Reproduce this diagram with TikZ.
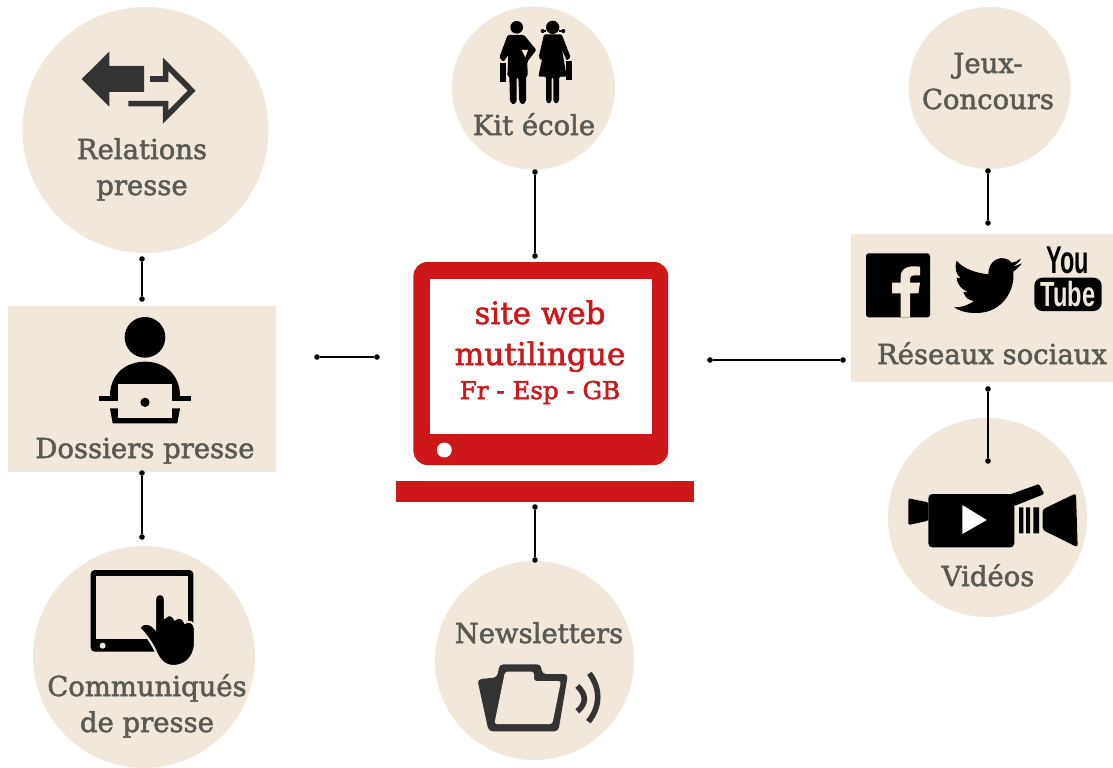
\documentclass[tikz,border=0pt]{standalone}
\usepackage{fontspec}
\usepackage{graphicx}
\setmainfont{DejaVu Serif}
\newfontfamily\ytfont{Liberation Sans}
\definecolor{beige}{HTML}{F1E8DB}
\definecolor{redc}{HTML}{CD1719}
\definecolor{txtc}{HTML}{5A5A55}
\definecolor{darkc}{HTML}{333333}
\newcommand{\heavytext}[1]{\special{pdf:literal direct 2 Tr 0.4 w}#1\special{pdf:literal direct 0 Tr 0.4 w}}
\tikzset{
  px/.style={x=0.75pt,y=-0.75pt},
  zoomed/.style={x=0.25pt,y=-0.25pt},
  disc/.style={circle,fill=beige,inner sep=0pt,minimum size=#1*0.75pt},
  panel/.style={rectangle,fill=beige,inner sep=0pt},
  lab/.style={text=txtc,font=\fontsize{20.6}{24}\selectfont,inner sep=0pt,anchor=base},
  redlab/.style={text=redc,inner sep=0pt,anchor=base},
  dotend/.style={circle,fill=black,inner sep=0pt,minimum size=4.2pt},
  link/.style={draw=black,line width=1pt},
}
\begin{document}
\begin{tikzpicture}[px]
\useasboundingbox (0,0) rectangle (1113,767);
\fill[white] (0,0) rectangle (1113,767);
% discs and panels
\node[disc=246] (relations) at (145.5,130) {};
\node[disc=163] (kit) at (533.5,88) {};
\node[disc=162] (jeux) at (989.5,88) {};
\node[disc=222] (communiques) at (144,657) {};
\node[disc=199] (newsletters) at (534.5,660.5) {};
\node[disc=199] (videos) at (987.5,517.5) {};
\node[panel,minimum width=201pt,minimum height=124.5pt] (dossiers) at (142,389) {};
\node[panel,minimum width=196.5pt,minimum height=111pt] (reseaux) at (982,308) {};
% monitor
\node[rectangle,fill=redc,rounded corners=10.5pt,minimum width=191pt,minimum height=152.25pt,inner sep=0pt] (monitor) at (540.75,363.5) {};
\node[rectangle,fill=white,minimum width=166.5pt,minimum height=116.6pt,inner sep=0pt] (screen) at (541,356.25) {};
\node[circle,fill=white,minimum size=11.2pt,inner sep=0pt] (monbtn) at (444.3,450) {};
\node[rectangle,fill=redc,minimum width=223.5pt,minimum height=15.75pt,inner sep=0pt] (monbase) at (545,491.5) {};
% connectors
\node[dotend] (a1) at (142,259) {}; \node[dotend] (a2) at (142,299) {};
\node[dotend] (b1) at (142,473) {}; \node[dotend] (b2) at (142,537) {};
\node[dotend] (c1) at (317,357) {}; \node[dotend] (c2) at (377,357) {};
\node[dotend] (d1) at (535,172) {}; \node[dotend] (d2) at (535,256) {};
\node[dotend] (e1) at (535,507) {}; \node[dotend] (e2) at (535,560) {};
\node[dotend] (f1) at (710,360) {}; \node[dotend] (f2) at (843,360) {};
\node[dotend] (g1) at (988,171) {}; \node[dotend] (g2) at (988,223) {};
\node[dotend] (h1) at (988,389) {}; \node[dotend] (h2) at (988,461) {};
\draw[link] (a1) -- (a2);
\draw[link] (b1) -- (b2);
\draw[link] (c1) -- (c2);
\draw[link] (d1) -- (d2);
\draw[link] (e1) -- (e2);
\draw[link] (f1) -- (f2);
\draw[link] (g1) -- (g2);
\draw[link] (h1) -- (h2);
% labels
\node[lab] (t1) at (142,159) {\heavytext{Relations}};
\node[lab] (t2) at (142,195) {\heavytext{presse}};
\node[lab] (t3) at (534,135) {\heavytext{Kit école}};
\node[lab] (t4) at (988,73) {\heavytext{Jeux-}};
\node[lab] (t5) at (988,109) {\heavytext{Concours}};
\node[lab] (t6) at (145,458) {\heavytext{Dossiers presse}};
\node[lab] (t7) at (992,364) {\heavytext{Réseaux sociaux}};
\node[lab] (t8) at (988,586) {\heavytext{Vidéos}};
\node[lab] (t9) at (539,643) {\heavytext{Newsletters}};
\node[lab] (t10) at (147,696) {\heavytext{Communiqués}};
\node[lab] (t11) at (147,732) {\heavytext{de presse}};
\node[redlab,font=\fontsize{23.2}{27}\selectfont] (t12) at (540,324) {\heavytext{site web}};
\node[redlab,font=\fontsize{23.4}{27}\selectfont] (t13) at (540,365) {\heavytext{mutilingue}};
\node[redlab,font=\fontsize{18.4}{21}\selectfont] (t14) at (540,399) {\heavytext{Fr - Esp - GB}};
% exchange arrows
\begin{scope}[zoomed]
\fill[darkc] (245,237) -- (328,155) -- (328,198) -- (432,198) -- (432,276) -- (328,276) -- (328,320) -- cycle;
\draw[darkc,line width=4.2pt,miter limit=10] (450,237) -- (497,237) -- (497,193) -- (575,272) -- (497,351) -- (497,311) -- (385,311);
\end{scope}
% kit figures
\begin{scope}[shift={(440,0)},zoomed]
\fill (230,82) circle[radius=19];
\fill[rounded corners=1pt] (203,105) -- (252,105) -- (289,150) -- (262,185) -- (263,228) -- (258,228) -- (258,305) -- (248,314) -- (238,305) -- (235,232) -- (230,232) -- (230,305) -- (220,314) -- (210,305) -- (208,228) -- (202,228) -- (205,165) -- (190,186) -- (178,172) -- cycle;
\fill[beige] (245,150) -- (264,150) -- (256,172) -- cycle;
\fill (180,188) rectangle (197,246);
\fill (338,82) circle[radius=20];
\fill[rounded corners=1pt] (312,103) -- (365,103) -- (392,172) -- (380,182) -- (366,148) -- (380,230) -- (357,230) -- (357,303) -- (349,312) -- (340,303) -- (340,232) -- (335,232) -- (335,303) -- (326,312) -- (318,303) -- (318,230) -- (295,230) -- (312,150) -- (305,182) -- (296,172) -- cycle;
\fill (378,183) rectangle (396,240);
\draw[line width=.8pt] (318,93) -- (302,93) (358,93) -- (375,93);
\fill (308,93) circle[radius=6] (370,93) circle[radius=6];
\end{scope}
% person with laptop
\begin{scope}[shift={(90,310)},zoomed]
\fill (165,82) circle[radius=61];
\fill (60,258) .. controls (60,190) and (110,155) .. (165,155) .. controls (220,155) and (270,190) .. (270,258) -- cycle;
\fill (28,258) rectangle (302,274);
\fill (60,295) -- (270,295) -- (262,340) -- (68,340) -- cycle;
\fill[beige] (85,222) rectangle (245,325);
\fill (165,277) circle[radius=14];
\end{scope}
% tablet
\begin{scope}[shift={(60,560)},zoomed]
\fill[rounded corners=3pt] (92,30) rectangle (400,275);
\fill[beige] (108,47) rectangle (385,238);
\fill[beige] (128,257) circle[radius=9];
\path[fill=black,draw=beige,line width=1.6pt] (285,120) .. controls (285,95) and (315,95) .. (315,120) -- (315,172) .. controls (325,160) and (340,165) .. (345,178) .. controls (355,168) and (370,172) .. (375,188) .. controls (385,182) and (403,185) .. (405,205) -- (405,255) .. controls (400,300) and (370,318) .. (340,318) .. controls (310,318) and (295,295) .. (285,270) .. controls (275,250) and (260,225) .. (238,205) .. controls (240,188) and (270,185) .. (285,205) -- cycle;
\end{scope}
% folder
\begin{scope}[shift={(460,650)},zoomed]
\fill[darkc,rounded corners=3pt] (52,88) -- (112,82) -- (118,43) -- (243,43) -- (246,72) -- (324,72) -- (295,244) -- (86,244) -- cycle;
\fill[beige,rounded corners=2pt] (135,65) -- (222,65) -- (222,93) -- (303,93) -- (277,222) -- (103,222) -- cycle;
\draw[darkc,line width=4.2pt] (352,108) .. controls (380,135) and (380,160) .. (352,184);
\draw[darkc,line width=4.2pt] (388,70) .. controls (422,115) and (422,170) .. (385,215);
\end{scope}
% camera
\begin{scope}[shift={(890,470)},zoomed]
\fill[rounded corners=3pt] (115,72) rectangle (373,232);
\fill[rounded corners=1pt] (55,85) -- (115,97) -- (115,152) -- (55,165) -- cycle;
\fill[rounded corners=1pt] (355,75) -- (447,42) -- (463,72) -- (373,108) -- cycle;
\fill[white] (217,105) -- (290,150) -- (217,192) -- cycle;
\fill (387,112) rectangle (400,190) (408,112) rectangle (420,190) (430,112) rectangle (447,190);
\fill[rounded corners=2pt] (458,118) -- (558,70) -- (563,232) -- (458,180) -- cycle;
\end{scope}
% social icons
\begin{scope}[shift={(850,230)},zoomed]
\fill[rounded corners=2pt] (48,70) rectangle (240,262);
\fill[beige] (152,262) -- (152,190) -- (126,190) -- (126,158) -- (152,158) -- (152,140) .. controls (152,115) and (175,105) .. (210,110) -- (210,136) -- (195,136) .. controls (183,136) and (180,140) .. (180,150) -- (180,158) -- (210,158) -- (205,190) -- (180,190) -- (180,262) -- cycle;
\fill (415,133) .. controls (370,128) and (335,112) .. (320,92) .. controls (312,115) and (320,135) .. (332,145) .. controls (327,145) and (322,144) .. (320,143) .. controls (322,165) and (335,178) .. (352,185) .. controls (348,187) and (343,187) .. (340,186) .. controls (345,205) and (360,212) .. (372,213) .. controls (355,225) and (335,233) .. (312,232) .. controls (340,250) and (370,250) .. (395,248) .. controls (460,240) and (495,180) .. (490,125) .. controls (500,118) and (510,108) .. (515,100) .. controls (505,105) and (495,108) .. (490,108) .. controls (500,102) and (510,95) .. (513,85) .. controls (505,92) and (495,97) .. (485,98) .. controls (475,85) and (455,80) .. (440,88) .. controls (420,98) and (415,115) .. (415,133) -- cycle;
\node[rectangle,fill=black,rounded corners=6pt,minimum width=50.5pt,minimum height=25pt,inner sep=0pt] (ytbox) at (654,193) {};
\node[inner sep=0pt] (ytyou) at (654,90) {\resizebox{32pt}{20pt}{\ytfont\bfseries You}};
\node[inner sep=0pt,text=beige] (yttube) at (654,193) {\resizebox{41pt}{19pt}{\ytfont\bfseries Tube}};
\end{scope}
\end{tikzpicture}
\end{document}
